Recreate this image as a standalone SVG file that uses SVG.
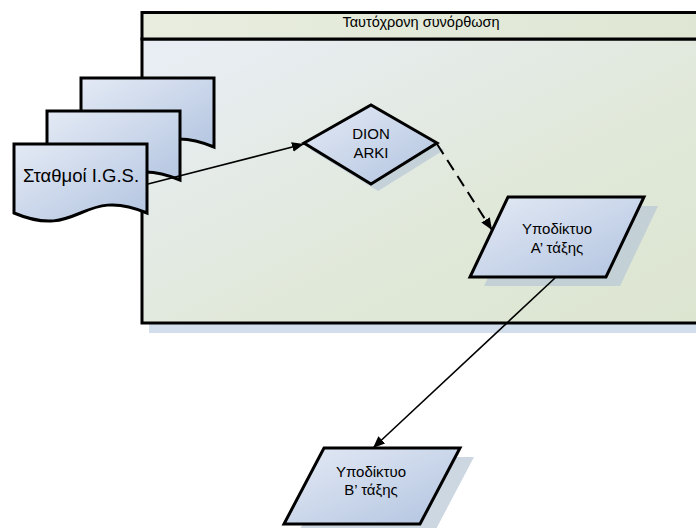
<svg xmlns="http://www.w3.org/2000/svg" width="696" height="528" viewBox="0 0 696 528">
  <defs>
    <linearGradient id="shapeFill" x1="0" y1="0" x2="1" y2="1">
      <stop offset="0" stop-color="#e4eaf5"/>
      <stop offset="1" stop-color="#b2c4e0"/>
    </linearGradient>
    <linearGradient id="bodyFill" x1="0" y1="0" x2="1" y2="1">
      <stop offset="0" stop-color="#e9eef6"/>
      <stop offset="0.6" stop-color="#e0e8d9"/>
      <stop offset="1" stop-color="#dce5d0"/>
    </linearGradient>
    <linearGradient id="headFill" x1="0" y1="0" x2="1" y2="0">
      <stop offset="0" stop-color="#e8eddf"/>
      <stop offset="1" stop-color="#dfe6d3"/>
    </linearGradient>
    <marker id="arrow" viewBox="0 0 12 10" refX="12" refY="5" markerWidth="12" markerHeight="10" markerUnits="userSpaceOnUse" orient="auto">
      <path d="M0,0 L12,5 L0,10 Z" fill="#000"/>
    </marker>
  </defs>
  <style>
    .shape { fill: url(#shapeFill); stroke: #000; stroke-width: 3; stroke-linejoin: miter; }
    .shadow { fill: #b8c6d6; opacity: 0.7; }
    .label { font-family: "Liberation Sans", Arial, sans-serif; fill: #000; text-anchor: middle; font-size: 15px; }
    .link { fill: none; stroke: #000; stroke-width: 1.6; }
    .dashed { stroke-width: 2; stroke-dasharray: 12,7; }
  </style>

  <rect width="696" height="528" fill="#ffffff"/>

  <!-- swimlane container -->
  <g id="container">
    <rect x="149" y="20" width="560" height="313" fill="#d3deec"/>
    <rect x="142" y="39" width="565" height="284" fill="url(#bodyFill)" stroke="#000" stroke-width="3"/>
    <rect x="142" y="12.5" width="565" height="26.5" fill="url(#headFill)" stroke="#000" stroke-width="3"/>
    <text class="label" x="421" y="26.5" style="font-size:14.5px">Ταυτόχρονη συνόρθωση</text>
  </g>

  <!-- stacked documents -->
  <g id="stations">
    <path class="shape" d="M81,78 H214 V147 C147.5,119 147.5,175 81,147 Z"/>
    <path class="shape" d="M47,111 H180 V180 C113.5,152 113.5,208 47,180 Z"/>
    <path class="shape" d="M14,144 H147 V213 C80.5,185 80.5,241 14,213 Z"/>
    <text class="label" x="81" y="182" style="font-size:18.5px">Σταθμοί I.G.S.</text>
  </g>

  <!-- decision -->
  <g id="dion-arki">
    <polygon class="shadow" points="311,150 378,112 444,150 378,191"/>
    <polygon class="shape" points="304,143 371,105 437,143 371,184"/>
    <text class="label" x="371" y="139">DION</text>
    <text class="label" x="371" y="158">ARKI</text>
  </g>

  <!-- first order network -->
  <g id="subnet-a">
    <polygon class="shadow" points="522,206 658,206 620,286 484,286"/>
    <polygon class="shape" points="508,197 644,197 606,277 470,277"/>
    <text class="label" x="557" y="234">Υποδίκτυο</text>
    <text class="label" x="557" y="253">Α’ τάξης</text>
  </g>

  <!-- second order network -->
  <g id="subnet-b">
    <polygon class="shadow" points="338,457 474,457 434,533 298,533"/>
    <polygon class="shape" points="324,448 460,448 420,524 284,524"/>
    <text class="label" x="371" y="477">Υποδίκτυο</text>
    <text class="label" x="371" y="495">B’ τάξης</text>
  </g>

  <!-- connectors -->
  <g id="connectors">
    <line class="link" x1="148" y1="184" x2="304" y2="144" marker-end="url(#arrow)"/>
    <line class="link dashed" x1="437" y1="144" x2="492" y2="230" marker-end="url(#arrow)"/>
    <line class="link" x1="555" y1="278" x2="373" y2="448" marker-end="url(#arrow)"/>
  </g>
</svg>
